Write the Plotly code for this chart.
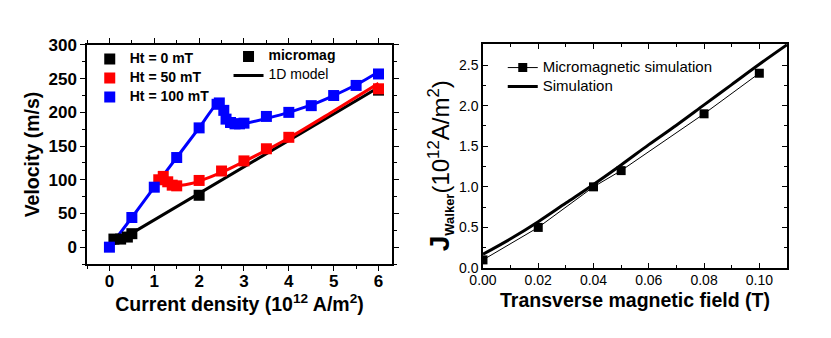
import plotly.graph_objects as go

# ---- Left panel data ----
j0_pts = [0.1, 0.25, 0.4, 0.5, 2.0, 6.0]
v0_pts = [12, 12, 15, 20, 77, 233]
j0_line = [0.05, 6.0]
v0_line = [3, 237]

j50_pts = [1.1, 1.2, 1.3, 1.4, 1.5, 2.0, 2.5, 3.0, 3.5, 4.0, 6.0]
v50_pts = [100, 105, 97, 92, 91, 99, 113, 128, 146, 163, 235]
j50_line = [1.0, 1.2, 1.4, 1.6, 1.8, 2.0, 2.5, 3.0, 3.5, 4.0, 5.0, 6.0]
v50_line = [100, 97, 93, 92, 94, 98, 111, 127, 144, 162, 202, 243]

j100_pts = [0, 0.5, 1.0, 1.5, 2.0, 2.4, 2.45, 2.55, 2.6, 2.7, 2.8, 2.9, 3.0, 3.5, 4.0, 4.5, 5.0, 5.5, 6.0]
v100_pts = [0, 44, 89, 133, 177, 212, 214, 203, 190, 185, 183, 183, 184, 194, 200, 210, 225, 240, 257]
j100_line = [0, 0.5, 1.0, 1.5, 2.0, 2.45, 2.55, 2.65, 2.8, 3.0, 3.5, 4.0, 4.5, 5.0, 5.5, 6.0]
v100_line = [0, 44, 89, 133, 177, 216, 205, 189, 182, 183, 191, 200, 211, 225, 241, 260]

legend1_names = ["Ht = 0 mT", "Ht = 50 mT", "Ht = 100 mT"]
legend2_names = ["micromag", "1D model"]

# ---- Right panel data ----
h_mm = [0.0, 0.02, 0.04, 0.05, 0.08, 0.10]
jw_mm = [0.1, 0.5, 1.0, 1.2, 1.9, 2.4]
h_sim = [0.0, 0.01, 0.02, 0.03, 0.04, 0.05, 0.06, 0.07, 0.08, 0.09, 0.10, 0.11]
jw_sim = [0.17, 0.36, 0.57, 0.80, 1.03, 1.27, 1.52, 1.76, 2.01, 2.26, 2.51, 2.75]
legend3_names = ["Micromagnetic simulation", "Simulation"]

FONT = "Liberation Sans, Arial, sans-serif"
BLUE = "#0000ff"
RED = "#ff0000"
BLACK = "#000000"
MS = 11

fig = go.Figure()

fig.add_trace(go.Scatter(x=j0_line, y=v0_line, mode="lines", line=dict(color=BLACK, width=3), showlegend=False, xaxis="x", yaxis="y"))
fig.add_trace(go.Scatter(x=j50_line, y=v50_line, mode="lines", line=dict(color=RED, width=3, shape="spline"), showlegend=False, xaxis="x", yaxis="y"))
fig.add_trace(go.Scatter(x=j100_line, y=v100_line, mode="lines", line=dict(color=BLUE, width=3, shape="spline", smoothing=0.6), showlegend=False, xaxis="x", yaxis="y"))
fig.add_trace(go.Scatter(x=j0_pts, y=v0_pts, mode="markers", marker=dict(symbol="square", size=MS, color=BLACK), showlegend=False, xaxis="x", yaxis="y"))
fig.add_trace(go.Scatter(x=j50_pts, y=v50_pts, mode="markers", marker=dict(symbol="square", size=MS, color=RED), showlegend=False, xaxis="x", yaxis="y"))
fig.add_trace(go.Scatter(x=j100_pts, y=v100_pts, mode="markers", marker=dict(symbol="square", size=MS, color=BLUE), showlegend=False, xaxis="x", yaxis="y"))

for name, col in zip(legend1_names, [BLACK, RED, BLUE]):
    fig.add_trace(go.Scatter(x=[None], y=[None], mode="markers",
                             name=f"<span style='font-size:14px'>{name}</span>",
                             marker=dict(symbol="square", size=MS, color=col), legend="legend", xaxis="x", yaxis="y"))
fig.add_trace(go.Scatter(x=[None], y=[None], mode="markers",
                         name=f"<span style='font-size:14px'><b>{legend2_names[0]}</b></span>",
                         marker=dict(symbol="square", size=MS, color=BLACK), legend="legend2", xaxis="x", yaxis="y"))
fig.add_trace(go.Scatter(x=[None], y=[None], mode="lines",
                         name=f"<span style='font-size:14px'>{legend2_names[1]}</span>",
                         line=dict(color=BLACK, width=3), legend="legend2", xaxis="x", yaxis="y"))

fig.add_trace(go.Scatter(x=h_mm, y=jw_mm, mode="lines+markers",
                         name=f"<span style='font-size:15px'>{legend3_names[0]}</span>",
                         line=dict(color=BLACK, width=1), marker=dict(symbol="square", size=9, color=BLACK),
                         legend="legend3", xaxis="x2", yaxis="y2"))
fig.add_trace(go.Scatter(x=h_sim, y=jw_sim, mode="lines",
                         name=f"<span style='font-size:15px'>{legend3_names[1]}</span>",
                         line=dict(color=BLACK, width=3, shape="spline"),
                         legend="legend3", xaxis="x2", yaxis="y2"))

axis_common = dict(showline=True, linecolor=BLACK, linewidth=1.5, showgrid=False, zeroline=False,
                   mirror="ticks", ticks="outside", tickcolor=BLACK, ticklen=5, tickwidth=1.2,
                   automargin=False)
axis_common2 = dict(showline=True, linecolor=BLACK, linewidth=1.5, showgrid=False, zeroline=False,
                    mirror="ticks", ticks="inside", tickcolor=BLACK, ticklen=5, tickwidth=1,
                    automargin=False)

fig.update_layout(
    width=831, height=338,
    paper_bgcolor="white", plot_bgcolor="white",
    margin=dict(l=0, r=0, t=0, b=0, autoexpand=False),
    font=dict(family=FONT, color=BLACK),
    xaxis=dict(domain=[0.1047, 0.4717], range=[-0.5, 6.3], dtick=1, anchor="y",
               minor=dict(dtick=0.5, ticks="outside", ticklen=3, tickcolor=BLACK),
               tickfont=dict(size=17, family=FONT, weight="bold"), ticklabelstandoff=-4,
               title=dict(text="Current density (10<sup>12</sup> A/m<sup>2</sup>)",
                          font=dict(size=19.5, weight="bold"), standoff=0),
               **axis_common),
    yaxis=dict(domain=[0.2189, 0.8669], range=[-25, 300], dtick=50, anchor="x",
               minor=dict(dtick=25, ticks="outside", ticklen=3, tickcolor=BLACK),
               tickfont=dict(size=17, family=FONT, weight="bold"),
               title=dict(text="Velocity (m/s)", font=dict(size=19.5, weight="bold"), standoff=4),
               **axis_common),
    xaxis2=dict(domain=[0.5812, 0.947], range=[0, 0.11], dtick=0.02, tickformat=".2f", anchor="y2",
                minor=dict(dtick=0.01, ticks="inside", ticklen=3, tickcolor=BLACK),
                tickfont=dict(size=14), ticklabelstandoff=-2,
                title=dict(text="Transverse magnetic field (T)", font=dict(size=19.5, weight="bold"), standoff=7),
                **axis_common2),
    yaxis2=dict(domain=[0.2071, 0.8698], range=[0, 2.76], dtick=0.5, tickformat=".1f", anchor="x2",
                minor=dict(dtick=0.25, ticks="inside", ticklen=3, tickcolor=BLACK),
                tickfont=dict(size=14),
                **axis_common2),
    annotations=[dict(
        text="<b><span style='font-size:28px'>J</span><sub><span style='font-size:13px'>Walker</span></sub></b>(10<sup>12</sup>A/m<sup>2</sup>)",
        font=dict(size=24, family=FONT, color=BLACK), textangle=-90,
        xref="paper", yref="paper", x=0.5295, y=0.508, xanchor="center", yanchor="middle",
        showarrow=False)],
    legend=dict(x=0.108, y=0.868, xanchor="left", yanchor="top", bgcolor="rgba(0,0,0,0)",
                font=dict(size=10, family=FONT, weight="bold"), itemwidth=30, tracegroupgap=0),
    legend2=dict(x=0.275, y=0.876, xanchor="left", yanchor="top", bgcolor="rgba(0,0,0,0)",
                 font=dict(size=10, family=FONT), itemwidth=30),
    legend3=dict(x=0.605, y=0.843, xanchor="left", yanchor="top", bgcolor="rgba(0,0,0,0)",
                 font=dict(size=12, family=FONT), itemwidth=30),
)

fig.write_html("out.html", config={"displayModeBar": False},
               post_script="document.body.style.margin='0px';")
